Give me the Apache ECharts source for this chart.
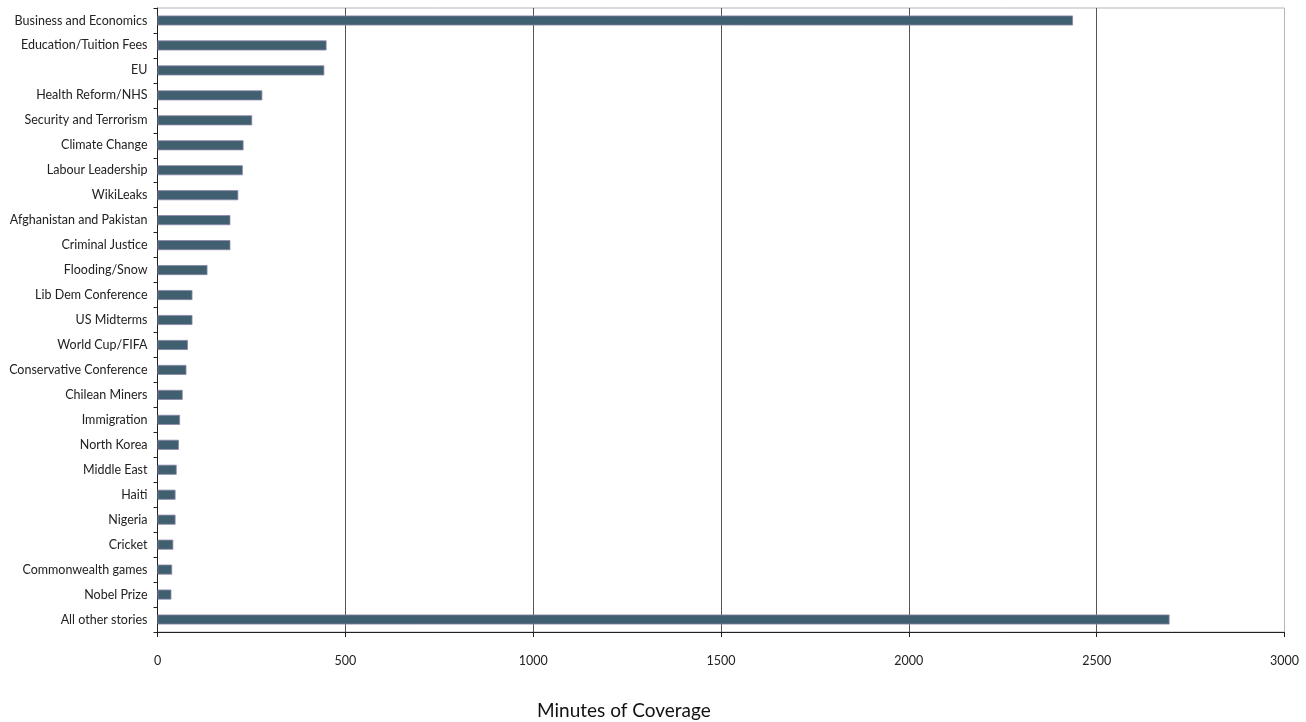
<!DOCTYPE html>
<html>
<head>
<meta charset="utf-8">
<script src="https://cdn.jsdelivr.net/npm/echarts@6/dist/echarts.min.js"></script>
<style>
  html, body { margin: 0; padding: 0; background: #fff; }
  #chart { width: 1306px; height: 722px; }
</style>
</head>
<body>
<div id="chart"></div>
<script>
// Story topics, top to bottom
const topics = [
  'Business and Economics', 'Education/Tuition Fees', 'EU', 'Health Reform/NHS',
  'Security and Terrorism', 'Climate Change', 'Labour Leadership', 'WikiLeaks',
  'Afghanistan and Pakistan', 'Criminal Justice', 'Flooding/Snow', 'Lib Dem Conference',
  'US Midterms', 'World Cup/FIFA', 'Conservative Conference', 'Chilean Miners',
  'Immigration', 'North Korea', 'Middle East', 'Haiti', 'Nigeria', 'Cricket',
  'Commonwealth games', 'Nobel Prize', 'All other stories'
];

// Minutes of coverage per topic
const minutes = [
  2437, 450, 444, 279, 252, 229, 227, 215, 194, 194, 133, 93, 93, 81, 77, 67,
  60, 57, 51, 48, 48, 42, 39, 37, 2694
];

const axisTitle = 'Minutes of Coverage';
const font = 'Lato, "Open Sans", sans-serif';

const chart = echarts.init(document.getElementById('chart'));
chart.setOption({
  animation: false,
  backgroundColor: '#fff',
  grid: {
    left: 157.5, right: 21.5, top: 8, bottom: 90,
    show: true, borderColor: '#b5b5b5', borderWidth: 1
  },
  xAxis: {
    type: 'value', min: 0, max: 3000, interval: 500,
    axisLine: { show: true, lineStyle: { color: '#222', width: 1 } },
    axisTick: { show: true, length: 5, lineStyle: { color: '#222' } },
    axisLabel: {
      color: '#222', fontFamily: font, fontSize: 12.5, margin: 22,
      formatter: v => String(v)
    },
    splitLine: {
      show: true,
      lineStyle: { color: ['#222', '#555', '#555', '#555', '#555', '#555', '#b5b5b5'], width: 1 }
    }
  },
  yAxis: {
    type: 'category', data: topics, inverse: true,
    axisLine: { show: true, lineStyle: { color: '#222', width: 1 } },
    axisTick: { show: true, length: 4, lineStyle: { color: '#222' } },
    axisLabel: { color: '#222', fontFamily: font, fontSize: 12.5, margin: 10, padding: [2, 0, 0, 0] },
    splitLine: { show: false }
  },
  graphic: [{
    type: 'text', left: 537, top: 701,
    style: { text: axisTitle, fill: '#111', font: '19px ' + font }
  }],
  series: [{
    type: 'bar', data: minutes, barWidth: 10,
    itemStyle: { color: '#405f6f', borderColor: '#8a86a8', borderWidth: 0.8 }
  }]
});
</script>
</body>
</html>
